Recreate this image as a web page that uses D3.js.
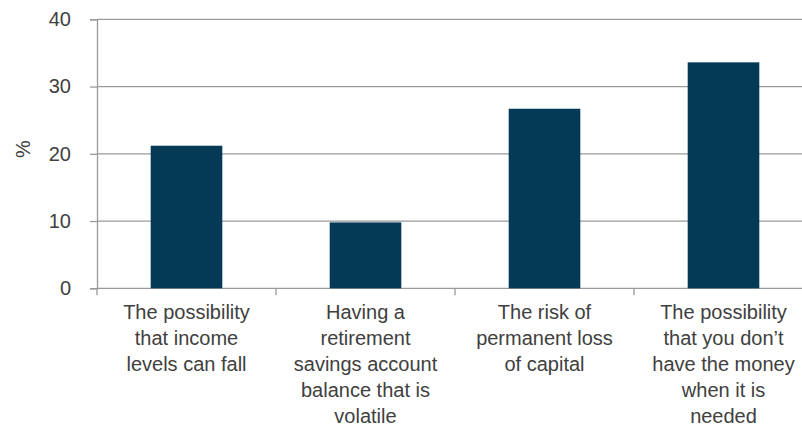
<!DOCTYPE html>
<html>
<head>
<meta charset="utf-8">
<script src="https://cdn.jsdelivr.net/npm/d3@7"></script>
<style>
  html, body { margin: 0; padding: 0; background: #fff; }
  svg { display: block; }
  text { font-family: "Liberation Sans", Arial, sans-serif; fill: #404040; }
</style>
</head>
<body>
<svg id="chart" width="802" height="430"></svg>
<script>
// Survey concerns about retirement income, share of respondents (%)
const categories = [
  ["The possibility", "that income", "levels can fall"],
  ["Having a", "retirement", "savings account", "balance that is", "volatile"],
  ["The risk of", "permanent loss", "of capital"],
  ["The possibility", "that you don\u2019t", "have the money", "when it is", "needed"]
];
const values = [21.2, 9.8, 26.7, 33.6];
const yTicks = [0, 10, 20, 30, 40];
const yLabel = "%";

const svg = d3.select("#chart");
const plotLeft = 97, plotRight = 813, plotTop = 19.3, plotBottom = 288.3;

const x = d3.scaleBand()
  .domain(d3.range(categories.length))
  .range([plotLeft, plotRight])
  .paddingInner(0.6)
  .paddingOuter(0.3);

const y = d3.scaleLinear().domain([0, 40]).range([plotBottom, plotTop]);

// Horizontal gridlines
svg.append("g")
  .selectAll("line")
  .data(yTicks)
  .join("line")
  .attr("x1", plotLeft).attr("x2", plotRight)
  .attr("y1", d => y(d)).attr("y2", d => y(d))
  .attr("stroke", "#9a9a9a")
  .attr("stroke-width", 1.3);

// Bars
svg.append("g")
  .selectAll("rect")
  .data(values)
  .join("rect")
  .attr("x", (d, i) => x(i))
  .attr("width", x.bandwidth())
  .attr("y", d => y(d))
  .attr("height", d => y(0) - y(d))
  .attr("fill", "#053a57");

// Y axis
const yAxis = svg.append("g")
  .attr("transform", `translate(${plotLeft},0)`)
  .call(d3.axisLeft(y).tickValues(yTicks).tickSize(7).tickPadding(19).tickFormat(d3.format("d")));
yAxis.select(".domain").attr("stroke", "#9a9a9a").attr("stroke-width", 1.3);
yAxis.selectAll(".tick line").attr("stroke", "#9a9a9a").attr("stroke-width", 1.3);
yAxis.selectAll(".tick text")
  .attr("font-size", 20)
  .attr("font-family", "Liberation Sans, Arial, sans-serif")
  .attr("fill", "#404040");

// Category boundary ticks on the x axis
const xStep = x.step();
const boundaries = d3.range(categories.length + 1).map(i => plotLeft + i * xStep);
svg.append("g")
  .selectAll("line")
  .data(boundaries)
  .join("line")
  .attr("x1", d => d).attr("x2", d => d)
  .attr("y1", plotBottom).attr("y2", plotBottom + 7)
  .attr("stroke", "#9a9a9a")
  .attr("stroke-width", 1.3);

// Category labels
const labels = svg.append("g")
  .selectAll("text")
  .data(categories)
  .join("text")
  .attr("text-anchor", "middle")
  .attr("font-size", 20)
  .attr("x", (d, i) => x(i) + x.bandwidth() / 2)
  .attr("y", 318.5);
labels.selectAll("tspan")
  .data(d => d)
  .join("tspan")
  .attr("x", function () { return this.parentNode.getAttribute("x"); })
  .attr("dy", (d, j) => j === 0 ? 0 : 26.2)
  .text(d => d);

// Y axis title
svg.append("text")
  .attr("transform", "translate(30,149) rotate(-90)")
  .attr("text-anchor", "middle")
  .attr("font-size", 20)
  .text(yLabel);
</script>
</body>
</html>
